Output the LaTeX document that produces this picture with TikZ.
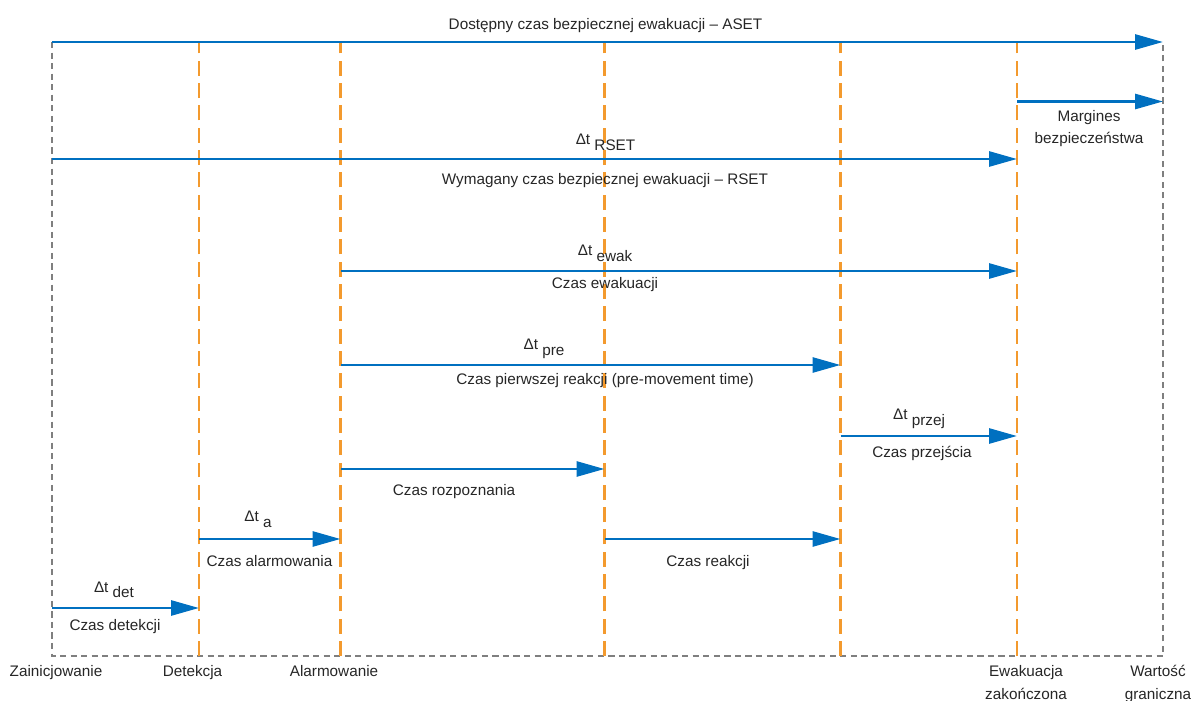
\documentclass[tikz,border=0pt]{standalone}
\usepackage{fontspec}
\setmainfont{Liberation Sans}
\usetikzlibrary{arrows.meta}

\definecolor{timeblue}{HTML}{0070C0}
\definecolor{markorange}{HTML}{F39A2E}
\definecolor{framegray}{HTML}{7F7F7F}
\definecolor{labelgray}{HTML}{262626}

% Delta t with a lowered index
\newcommand{\dt}[1]{Δt \raisebox{-3.2pt}{#1}}

\tikzset{
    timearrow/.style={timeblue, line width=1.6pt, -{Triangle[length=0.56cm, width=0.3cm]}},
    eventline/.style={markorange, line width=1.3pt, dash pattern=on 8.5pt off 4.2pt},
    frameline/.style={framegray, line width=1.1pt, dash pattern=on 3.5pt off 2.5pt},
    lbl/.style={font=\fontsize{8.7}{12.7}\selectfont, text=labelgray, inner sep=0pt, anchor=base, align=center}
}

\begin{document}
\begin{tikzpicture}
    \useasboundingbox (0, 0) rectangle (23.88, 14);

    % Events on the time axis
    \coordinate (start) at (1.04, 0.88);
    \coordinate (detect) at (3.98, 0.88);
    \coordinate (alarm) at (6.81, 0.88);
    \coordinate (recog) at (12.09, 0.88);
    \coordinate (react) at (16.81, 0.88);
    \coordinate (done) at (20.34, 0.88);
    \coordinate (limit) at (23.26, 0.88);

    % Frame and event lines
    \draw[frameline] (start |- 0, 13.16) -- (start) -- (limit) -- (limit |- 0, 13.16);
    \foreach \ev in {detect, alarm, recog, react, done}
        \draw[eventline] (\ev) -- (\ev |- 0, 13.16);

    % ASET and safety margin (two-line labels sit on their last line)
    \draw[timearrow] (start |- 0, 13.16) -- (limit |- 0, 13.16);
    \node[lbl] (aset) at (12.11, 13.41) {Dostępny czas bezpiecznej ewakuacji – ASET};
    \draw[timearrow] (done |- 0, 11.97) -- (limit |- 0, 11.97);
    \node[lbl] (margin) at (21.78, 11.12) {Margines\\bezpieczeństwa};

    % RSET
    \draw[timearrow] (start |- 0, 10.82) -- (done |- 0, 10.82);
    \node[lbl] (dtrset) at (12.11, 11.10) {\dt{RSET}};
    \node[lbl] (rset) at (12.10, 10.30) {Wymagany czas bezpiecznej ewakuacji – RSET};

    % Evacuation time
    \draw[timearrow] (alarm |- 0, 8.58) -- (done |- 0, 8.58);
    \node[lbl] (dtewak) at (12.10, 8.88) {\dt{ewak}};
    \node[lbl] (ewak) at (12.10, 8.23) {Czas ewakuacji};

    % Pre-movement time
    \draw[timearrow] (alarm |- 0, 6.70) -- (react |- 0, 6.70);
    \node[lbl] (dtpre) at (10.88, 7.00) {\dt{pre}};
    \node[lbl] (pre) at (12.10, 6.31) {Czas pierwszej reakcji (pre-movement time)};

    % Travel time
    \draw[timearrow] (react |- 0, 5.28) -- (done |- 0, 5.28);
    \node[lbl] (dtprzej) at (18.38, 5.60) {\dt{przej}};
    \node[lbl] (przej) at (18.44, 4.85) {Czas przejścia};

    % Recognition and reaction
    \draw[timearrow] (alarm |- 0, 4.62) -- (recog |- 0, 4.62);
    \node[lbl] (rozp) at (9.08, 4.08) {Czas rozpoznania};
    \draw[timearrow] (recog |- 0, 3.22) -- (react |- 0, 3.22);
    \node[lbl] (reakcji) at (14.16, 2.68) {Czas reakcji};

    % Alarm time
    \draw[timearrow] (detect |- 0, 3.22) -- (alarm |- 0, 3.22);
    \node[lbl] (dta) at (5.16, 3.56) {\dt{a}};
    \node[lbl] (alarmtime) at (5.39, 2.66) {Czas alarmowania};

    % Detection time
    \draw[timearrow] (start |- 0, 1.84) -- (detect |- 0, 1.84);
    \node[lbl] (dtdet) at (2.28, 2.16) {\dt{det}};
    \node[lbl] (dettime) at (2.30, 1.40) {Czas detekcji};

    % Event names
    \node[lbl] (startname) at (1.12, 0.466) {Zainicjowanie};
    \node[lbl] (detectname) at (3.85, 0.466) {Detekcja};
    \node[lbl] (alarmname) at (6.68, 0.466) {Alarmowanie};
    \node[lbl] (donename) at (20.52, 0.02) {Ewakuacja\\zakończona};
    \node[lbl] (limitname) at (23.16, 0.02) {Wartość\\graniczna};
\end{tikzpicture}
\end{document}
